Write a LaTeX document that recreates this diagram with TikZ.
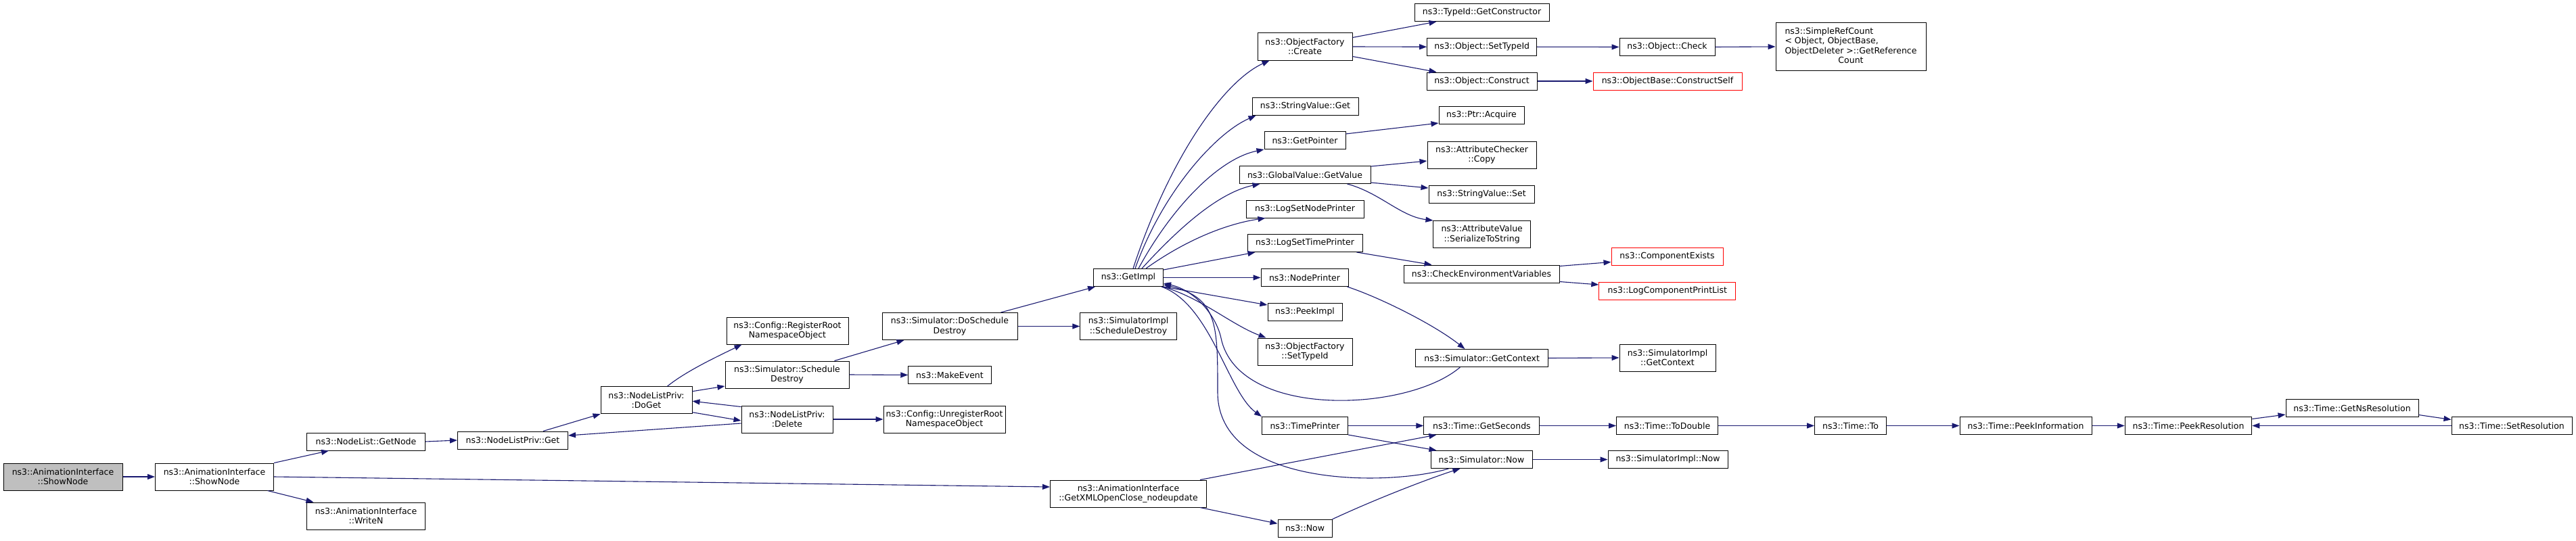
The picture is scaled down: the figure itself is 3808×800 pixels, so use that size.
\documentclass[tikz,border=0pt]{standalone}
\usepackage{fontspec}
\setmainfont{DejaVu Sans}
\usetikzlibrary{arrows.meta}
\definecolor{edgeblue}{HTML}{191970}
\definecolor{rootgray}{HTML}{BFBFBF}
\tikzset{
  box/.style={draw=black, line width=1pt, fill=white, inner sep=0pt, align=center,
    font=\fontsize{12.5}{14.5}\selectfont, minimum height=26pt},
  two/.style={minimum height=40pt},
  redbox/.style={box, draw=red},
  edge/.style={draw=edgeblue, line width=1.1pt, -{Triangle[length=11pt,width=8pt]}}
}
\begin{document}
\begin{tikzpicture}[x=1pt,y=-1pt]
\useasboundingbox (0,0) rectangle (3808,800);
\fill[white] (0,0) rectangle (3808,800);
% nodes
\node[box,two,fill=rootgray,minimum width=176pt] (root) at (93,705) {ns3::AnimationInterface\\::ShowNode};
\node[box,two,minimum width=175pt] (showN) at (317,705) {ns3::AnimationInterface\\::ShowNode};
\node[box,minimum width=175pt] (getNode) at (541,653) {ns3::NodeList::GetNode};
\node[box,two,minimum width=175pt] (writeN) at (541,763) {ns3::AnimationInterface\\::WriteN};
\node[box,minimum width=163pt] (nlpGet) at (758,651) {ns3::NodeListPriv::Get};
\node[box,two,minimum width=135pt] (doGet) at (955.5,591.7) {ns3::NodeListPriv:\\:DoGet};
\node[box,two,minimum width=180pt] (regRoot) at (1164,489) {ns3::Config::RegisterRoot\\NamespaceObject};
\node[box,two,minimum width=183pt] (schedDestroy) at (1163.5,554) {ns3::Simulator::Schedule\\Destroy};
\node[box,two,minimum width=135pt] (nlpDelete) at (1163.5,620) {ns3::NodeListPriv:\\:Delete};
\node[box,two,minimum width=180pt] (unregRoot) at (1396,620) {ns3::Config::UnregisterRoot\\NamespaceObject};
\node[box,two,minimum width=200pt] (dsd) at (1404,482.5) {ns3::Simulator::DoSchedule\\Destroy};
\node[box,minimum width=122.5pt] (makeEvent) at (1404,554.5) {ns3::MakeEvent};
\node[box,minimum width=103pt] (getImpl) at (1668,410.5) {ns3::GetImpl};
\node[box,two,minimum width=142.5pt] (simImplSD) at (1668,482.5) {ns3::SimulatorImpl\\::ScheduleDestroy};
\node[box,two,minimum width=231pt] (getXML) at (1668,730) {ns3::AnimationInterface\\::GetXMLOpenClose\_nodeupdate};
\node[box,two,minimum width=140pt] (ofCreate) at (1929,69) {ns3::ObjectFactory\\::Create};
\node[box,minimum width=157pt] (strGet) at (1929.5,157.5) {ns3::StringValue::Get};
\node[box,minimum width=120pt] (getPointer) at (1929,207.5) {ns3::GetPointer};
\node[box,minimum width=194pt] (globalGetValue) at (1929,258.5) {ns3::GlobalValue::GetValue};
\node[box,minimum width=174pt] (logSetNode) at (1929,309) {ns3::LogSetNodePrinter};
\node[box,minimum width=170pt] (logSetTime) at (1929,359.5) {ns3::LogSetTimePrinter};
\node[box,minimum width=129pt] (nodePrinter) at (1928.5,410.5) {ns3::NodePrinter};
\node[box,minimum width=110pt] (peekImpl) at (1929,461.5) {ns3::PeekImpl};
\node[box,two,minimum width=140pt] (ofSetTypeId) at (1929,520) {ns3::ObjectFactory\\::SetTypeId};
\node[box,minimum width=127pt] (timePrinter) at (1929,629.5) {ns3::TimePrinter};
\node[box,minimum width=80pt] (now) at (1929,781.3) {ns3::Now};
\node[box,minimum width=199pt] (getCtor) at (2190.5,18.5) {ns3::TypeId::GetConstructor};
\node[box,minimum width=162pt] (objSetTypeId) at (2190.7,69.3) {ns3::Object::SetTypeId};
\node[box,minimum width=163pt] (objConstruct) at (2190.5,120) {ns3::Object::Construct};
\node[box,minimum width=126pt] (ptrAcquire) at (2190,170.5) {ns3::Ptr::Acquire};
\node[box,two,minimum width=161pt] (attrCopy) at (2190.5,229) {ns3::AttributeChecker\\::Copy};
\node[box,minimum width=156pt] (strSet) at (2190,287.5) {ns3::StringValue::Set};
\node[box,two,minimum width=143.5pt] (serialize) at (2190.7,346.5) {ns3::AttributeValue\\::SerializeToString};
\node[box,minimum width=230pt] (checkEnv) at (2190,405) {ns3::CheckEnvironmentVariables};
\node[box,minimum width=195.5pt] (simGetContext) at (2190.7,529.5) {ns3::Simulator::GetContext};
\node[box,minimum width=171pt] (getSeconds) at (2190.4,629.5) {ns3::Time::GetSeconds};
\node[box,minimum width=150pt] (simNow) at (2190,679.5) {ns3::Simulator::Now};
\node[box,minimum width=141pt] (objCheck) at (2464.5,69.5) {ns3::Object::Check};
\node[redbox,minimum width=220pt] (constructSelf) at (2465,120) {ns3::ObjectBase::ConstructSelf};
\node[redbox,minimum width=165pt] (compExists) at (2464.5,379.5) {ns3::ComponentExists};
\node[redbox,minimum width=202pt] (logCompPrint) at (2464.8,430.5) {ns3::LogComponentPrintList};
\node[box,two,minimum width=142pt] (simImplGetContext) at (2465,529) {ns3::SimulatorImpl\\::GetContext};
\node[box,minimum width=150pt] (toDouble) at (2464.5,629.5) {ns3::Time::ToDouble};
\node[box,minimum width=177pt] (simImplNow) at (2465.5,679.5) {ns3::SimulatorImpl::Now};
\node[box,minimum width=222pt,minimum height=70pt] (simpleRef) at (2736,69)
  {\begin{tabular}{@{}c@{}}\multicolumn{1}{@{}l@{}}{ns3::SimpleRefCount}\\
   \multicolumn{1}{@{}l@{}}{< Object, ObjectBase,}\\ ObjectDeleter >::GetReference\\Count\end{tabular}};
\node[box,minimum width=106pt] (timeTo) at (2735.6,629.5) {ns3::Time::To};
\node[box,minimum width=195pt] (peekInfo) at (2994.5,629.5) {ns3::Time::PeekInformation};
\node[box,minimum width=187.5pt] (peekRes) at (3235,629.5) {ns3::Time::PeekResolution};
\node[box,minimum width=196pt] (getNsRes) at (3477,603.5) {ns3::Time::GetNsResolution};
\node[box,minimum width=178pt] (setRes) at (3713,629.5) {ns3::Time::SetResolution};
% edges
\draw[edge] (root.east) -- (showN.west);
\draw[edge] (showN.north east) -- ([xshift=33pt]getNode.south west);
\draw[edge] (showN.east) -- ([yshift=10pt]getXML.west);
\draw[edge] ([xshift=-9.5pt]showN.south east) -- ([xshift=10.5pt]writeN.north west);
\draw[edge] (getNode.east) -- (nlpGet.west);
\draw[edge] ([xshift=-37pt]nlpGet.north east) -- (doGet.south west);
\draw[edge] ([xshift=31pt]doGet.north) .. controls (1015,548) and (1065,525) .. ([xshift=23pt]regRoot.south west);
\draw[edge] ([yshift=13pt]doGet.east) -- ([yshift=-17pt]schedDestroy.west);
\draw[edge] ([yshift=-2pt]nlpDelete.north west) -- ([yshift=-1.5pt]doGet.east);
\draw[edge] ([yshift=-18pt]doGet.east) -- ([yshift=-2pt]nlpDelete.west);
\draw[edge] ([yshift=-6pt]nlpDelete.west) -- ([yshift=7pt]nlpGet.east);
\draw[edge] (nlpDelete.east) -- (unregRoot.west);
\draw[edge] ([xshift=-22pt]schedDestroy.north east) -- ([xshift=33pt]dsd.south west);
\draw[edge] (schedDestroy.east) -- (makeEvent.west);
\draw[edge] ([xshift=-25pt]dsd.north east) -- ([xshift=3pt]getImpl.south west);
\draw[edge] (dsd.east) -- (simImplSD.west);
\draw[edge] ([xshift=7pt]getImpl.north) .. controls (1730,230) and (1810,120) .. ([xshift=18pt]ofCreate.south west);
\draw[edge] ([xshift=10pt]getImpl.north) .. controls (1720,280) and (1800,195) .. ([xshift=6pt]strGet.south west);
\draw[edge] ([xshift=15pt]getImpl.north) .. controls (1730,310) and (1800,235) .. (getPointer.south west);
\draw[edge] ([xshift=20pt]getImpl.north) .. controls (1740,340) and (1800,285) .. ([xshift=31pt]globalGetValue.south west);
\draw[edge] ([xshift=26pt]getImpl.north) .. controls (1760,350) and (1820,330) .. ([xshift=29pt]logSetNode.south west);
\draw[edge] ([yshift=-2pt]getImpl.north east) -- ([xshift=12pt]logSetTime.south west);
\draw[edge] (getImpl.east) -- (nodePrinter.west);
\draw[edge] (getImpl.south east) -- ([yshift=10.5pt]peekImpl.west);
\draw[edge] ([xshift=-1pt]getImpl.south east) .. controls (1775,440) and (1820,480) .. ([xshift=13pt]ofSetTypeId.north west);
\draw[edge] ([xshift=-3pt]getImpl.south east) .. controls (1790,450) and (1815,580) .. (timePrinter.north west);
\draw[edge] ([xshift=66pt]simGetContext.south west) .. controls (2080,610) and (1830,620) .. (1805,500)
   .. controls (1799,471) and (1770,430) .. ([yshift=5pt]getImpl.south east);
\draw[edge] ([xshift=27pt]simNow.south west) .. controls (2050,720) and (1800,720) .. (1800,580)
   .. controls (1800,480) and (1800,440) .. ([yshift=3pt]getImpl.south east);
\draw[edge] ([yshift=-7pt]ofCreate.north east) -- ([xshift=33pt]getCtor.south west);
\draw[edge] (ofCreate.east) -- (objSetTypeId.west);
\draw[edge] ([yshift=6pt]ofCreate.south east) -- ([xshift=15pt]objConstruct.north west);
\draw[edge] (objSetTypeId.east) -- (objCheck.west);
\draw[edge] (objCheck.east) -- (simpleRef.west);
\draw[edge] (objConstruct.east) -- (constructSelf.west);
\draw[edge] ([yshift=-4pt]getPointer.north east) -- ([yshift=-11.5pt]ptrAcquire.west);
\draw[edge] ([yshift=-1pt]globalGetValue.north east) -- ([yshift=-9pt]attrCopy.west);
\draw[edge] ([yshift=2pt]globalGetValue.south east) -- ([yshift=9.5pt]strSet.west);
\draw[edge] ([xshift=-35pt]globalGetValue.south east) .. controls (2040,285) and (2070,320) .. (serialize.north west);
\draw[edge] ([xshift=-9pt]logSetTime.south east) -- ([xshift=42pt]checkEnv.north west);
\draw[edge] ([yshift=-2pt]checkEnv.north east) -- ([yshift=-8pt]compExists.west);
\draw[edge] ([yshift=2pt]checkEnv.south east) -- ([yshift=9.5pt]logCompPrint.west);
\draw[edge] ([xshift=-2pt]nodePrinter.south east) .. controls (2040,440) and (2120,480) .. ([xshift=73pt]simGetContext.north west);
\draw[edge] (simGetContext.east) -- (simImplGetContext.west);
\draw[edge] (timePrinter.east) -- (getSeconds.west);
\draw[edge] (timePrinter.south east) -- ([xshift=9pt]simNow.north west);
\draw[edge] ([xshift=-10pt]getXML.north east) -- ([xshift=19pt]getSeconds.south west);
\draw[edge] ([xshift=-10pt]getXML.south east) -- ([yshift=7pt]now.west);
\draw[edge] (now.north east) .. controls (2040,735) and (2120,705) .. ([xshift=44pt]simNow.south west);
\draw[edge] (simNow.east) -- (simImplNow.west);
\draw[edge] (getSeconds.east) -- (toDouble.west);
\draw[edge] (toDouble.east) -- (timeTo.west);
\draw[edge] (timeTo.east) -- (peekInfo.west);
\draw[edge] (peekInfo.east) -- (peekRes.west);
\draw[edge] ([yshift=10pt]peekRes.east) -- ([yshift=-9.5pt]getNsRes.west);
\draw[edge] ([yshift=-10pt]getNsRes.east) -- ([yshift=9pt]setRes.west);
\draw[edge] (setRes.west) -- (peekRes.east);
\end{tikzpicture}
\end{document}
